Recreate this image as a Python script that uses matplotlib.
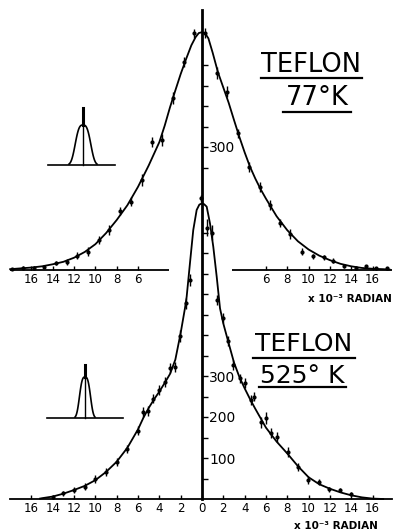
import numpy as np
import matplotlib
matplotlib.use("Agg")
import matplotlib.pyplot as plt
from matplotlib.lines import Line2D

# ---------------- data (x in 10^-3 radian, y in counts) ----------------
# 77 K panel: measured points
top_left_x = [-0.72, -1.66, -2.75, -3.72, -4.65, -5.66, -6.69, -7.69, -8.72, -9.69,
              -10.69, -11.73, -12.69, -13.72, -14.79, -15.8, -16.8, -17.8]
top_left_y = [577, 508, 419, 317, 313, 220, 167, 144, 98, 73, 45, 35, 19, 16, 8, 6, 6, 3]
top_left_err = [12, 12, 14, 14, 12, 14, 12, 10, 12, 10, 10, 8, 8, 5, 4, 4, 4, 3]
top_right_x = [0.28, 1.38, 2.37, 3.4, 4.4, 5.4, 6.4, 7.3, 8.3, 9.4, 10.4, 11.4, 12.3,
               13.3, 14.4, 15.4, 16.3, 17.4]
top_right_y = [578, 480, 435, 333, 252, 202, 159, 115, 88, 45, 34, 31, 23, 10, 6, 10, 4, 4]
top_right_err = [12, 14, 14, 12, 12, 12, 12, 10, 12, 8, 6, 6, 6, 4, 3, 3, 3, 3]
# 77 K panel: smooth curve
top_curve_x = [-18, -17, -16, -15, -14, -13, -12, -11, -10, -9, -8, -7, -6, -5, -4, -3.5,
               -3, -2.5, -2, -1.5, -1, -0.6, -0.3, 0, 0.3, 0.6, 1, 1.5, 2, 2.5, 3, 3.5, 4,
               4.5, 5, 5.5, 6, 7, 8, 9, 10, 11, 12, 13, 14, 15, 16, 17, 17.6]
top_curve_y = [2, 4, 6, 9, 14, 20, 30, 44, 63, 90, 122, 158, 203, 255, 312, 352,
               397, 438, 478, 514, 548, 568, 578, 580, 577, 565, 530, 482, 445, 408, 366,
               325, 287, 252, 223, 197, 174, 131, 97, 70, 50, 35, 24, 15, 9, 5, 3, 2, 1]

# 525 K panel: measured points
bot_left_x = [-0.1, -1.13, -1.53, -2.05, -2.5, -2.97, -3.5, -4.0, -4.55, -5.03, -5.5,
              -6.0, -7.0, -8.0, -9.0, -10.0, -11.0, -12.0, -13.0, -14.0]
bot_left_y = [733, 534, 477, 397, 321, 319, 286, 266, 245, 214, 213, 167, 121, 91, 65,
              48, 30, 22, 14, 4]
bot_left_err = [8, 14, 14, 14, 12, 12, 12, 12, 12, 12, 12, 10, 10, 10, 10, 10, 8, 8, 6, 4]
bot_right_x = [0.45, 0.97, 1.44, 1.94, 2.47, 2.94, 3.56, 4.03, 4.57, 4.9, 5.5, 6.0, 6.47,
               7.06, 8.04, 8.98, 9.97, 10.98, 11.95, 12.95, 13.98]
bot_right_y = [662, 650, 485, 441, 386, 327, 294, 282, 241, 250, 187, 197, 160, 152, 115,
               79, 46, 42, 24, 22, 12]
bot_right_err = [20, 18, 12, 12, 12, 12, 12, 12, 12, 12, 14, 14, 12, 12, 12, 10, 10, 8, 6, 6, 5]
# 525 K panel: smooth curve
bot_curve_x = [-15.2, -15, -14, -13, -12, -11, -10, -9, -8, -7, -6, -5.5, -5, -4.5, -4,
               -3.5, -3, -2.5, -2, -1.6, -1.44, -1.13, -0.82, -0.5, -0.25, 0, 0.2, 0.44,
               0.75, 1.06, 1.38, 1.69, 2, 2.5, 3, 3.5, 4, 4.5, 5, 5.5, 6, 7, 8, 9, 10, 11,
               12, 13, 14, 15, 16, 17]
bot_curve_y = [1, 2, 6, 13, 22, 32, 46, 66, 91, 125, 170, 198, 222, 243, 262, 283, 305,
               340, 405, 465, 493, 575, 656, 705, 718, 721, 719, 713, 672, 615, 542, 465,
               428, 380, 333, 298, 270, 244, 220, 197, 174, 140, 111, 80, 53, 36, 25, 16,
               9, 4, 1, 0]

top_xticks = [-16, -14, -12, -10, -8, -6, 6, 8, 10, 12, 14, 16]
bot_xticks = list(range(-16, 17, 2))
top_yticks = [250, 300, 350, 400, 450, 500]
top_ylabels = {300: "300"}
bot_yticks = list(range(50, 700, 50))
bot_ylabels = {100: "100", 200: "200", 300: "300"}

# ---------------- layout (pixel geometry of the original) ----------------
W, H = 401, 531
PXU = 10.66          # pixels per 10^-3 radian
X0 = 202.0           # pixel column of x = 0
PYU = 0.41           # pixels per count
Y0_TOP, Y0_BOT = 270.0, 499.0

fig = plt.figure(figsize=(W / 100, H / 100), dpi=100)
fig.patch.set_facecolor("white")
xlim = (-X0 / PXU, (W - X0) / PXU)


def make_axes(y0):
    ax = fig.add_axes([0, 0, 1, 1])
    ax.patch.set_visible(False)
    ax.set_xlim(*xlim)
    ax.set_ylim((y0 - H) / PYU, y0 / PYU)
    for s in ("top", "left"):
        ax.spines[s].set_visible(False)
    return ax


ink = "black"
tick_font = dict(family="DejaVu Sans", size=8.5)

# ---- top panel (77 K)
axt = make_axes(Y0_TOP)
axt.spines["bottom"].set_position(("data", 0))
axt.spines["bottom"].set_edgecolor("none")
axt.spines["right"].set_position(("data", 0))
axt.spines["right"].set_edgecolor("none")
axt.hlines(0, -18.0, -3.05, color=ink, lw=1.3)
axt.hlines(0, 2.8, 17.8, color=ink, lw=1.3)
axt.set_xticks(top_xticks)
axt.set_xticklabels([str(abs(t)) for t in top_xticks], fontdict=tick_font)
axt.tick_params(axis="x", direction="in", length=3, width=1, pad=2, colors=ink)
axt.yaxis.tick_right()
axt.set_yticks(top_yticks)
axt.set_yticklabels([top_ylabels.get(t, "") for t in top_yticks], fontsize=10)
axt.tick_params(axis="y", direction="out", length=4, width=1, pad=1)
axt.plot(top_curve_x, top_curve_y, color=ink, lw=1.3, clip_on=False)
for xs, ys, es in ((top_left_x, top_left_y, top_left_err),
                   (top_right_x, top_right_y, top_right_err)):
    axt.errorbar(xs, ys, yerr=es, fmt="o", ms=2.0, color=ink, elinewidth=1.0,
                 capsize=0, clip_on=False)

# ---- bottom panel (525 K)
axb = make_axes(Y0_BOT)
axb.spines["bottom"].set_position(("data", 0))
axb.spines["bottom"].set_bounds(-18.0, 17.8)
axb.spines["bottom"].set_linewidth(1.3)
axb.spines["right"].set_position(("data", 0))
axb.spines["right"].set_bounds(0, (Y0_BOT - 10) / PYU)
axb.spines["right"].set_linewidth(2.0)
axb.set_xticks(bot_xticks)
axb.set_xticklabels([str(abs(t)) for t in bot_xticks], fontdict=tick_font)
axb.tick_params(axis="x", direction="in", length=3, width=1, pad=2)
axb.yaxis.tick_right()
axb.set_yticks(bot_yticks)
axb.set_yticklabels([bot_ylabels.get(t, "") for t in bot_yticks], fontsize=10)
axb.tick_params(axis="y", direction="out", length=4, width=1, pad=1)
axb.plot(bot_curve_x, bot_curve_y, color=ink, lw=1.3, clip_on=False)
for xs, ys, es in ((bot_left_x, bot_left_y, bot_left_err),
                   (bot_right_x, bot_right_y, bot_right_err)):
    axb.errorbar(xs, ys, yerr=es, fmt="o", ms=2.0, color=ink, elinewidth=1.0,
                 capsize=0, clip_on=False)


# ---------------- annotations ----------------
def fx(px):
    return px / W


def fy(py):
    return 1 - py / H


def pline(xs, ys, lw=1.2):
    fig.add_artist(Line2D([fx(v) for v in xs], [fy(v) for v in ys],
                          transform=fig.transFigure, color=ink, lw=lw))


def ptext(px, py, s, size, **kw):
    fig.text(fx(px), fy(py), s, fontsize=size, ha="center", va="center",
             family="DejaVu Sans", color=ink, **kw)


ptext(311, 65, "TEFLON", 18.5)
pline([261, 362], [77.5, 77.5], 1.6)
ptext(317, 98, "77°K", 18.5)
pline([283, 351], [112, 112], 1.6)

ptext(304, 344, "TEFLON", 18)
pline([253, 355], [357.5, 357.5], 1.6)
ptext(302, 376, "525° K", 18)
pline([259, 346], [387, 387], 1.6)

ptext(350, 299, "x 10⁻³ RADIAN", 7.5, fontweight="bold")
ptext(336, 526, "x 10⁻³ RADIAN", 7.5, fontweight="bold")

# resolution-function sketches
for cx, base, top, hw, s, x1, x2, ytop in ((83, 165, 125, 14, 9.0, 48, 115, 108),
                                          (85, 418, 377, 10, 6.4, 47, 123, 365)):
    pline([x1, x2], [base, base], 1.2)
    u = np.linspace(-hw, hw, 80)
    g = np.exp(-np.abs(u / s) ** 3)
    pline(cx + u, base - (base - top) * g, 1.2)
    pline([cx, cx], [base, top], 1.0)
    pline([cx, cx], [top, ytop], 2.2)

fig.savefig("out.png", dpi=100, facecolor="white")
